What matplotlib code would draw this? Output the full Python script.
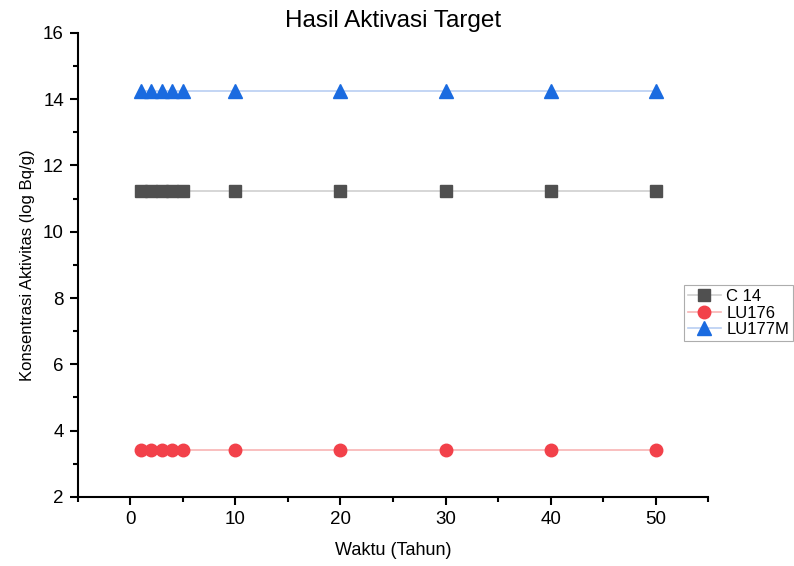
import matplotlib.pyplot as plt
from matplotlib.ticker import MultipleLocator

plt.rcParams['font.family'] = ['Liberation Sans', 'DejaVu Sans']

# Data
waktu = [1, 2, 3, 4, 5, 10, 20, 30, 40, 50]
c14 = [11.23] * len(waktu)
lu176 = [3.41] * len(waktu)
lu177m = [14.25] * len(waktu)

fig = plt.figure(figsize=(7.94, 5.66), dpi=100)
ax = fig.add_axes([0.098, 0.122, 0.794, 0.82])

ax.plot(waktu, c14, color='#d0d0d0', lw=1.2, marker='s', ms=8,
        mfc='#505050', mec='#505050', label='C 14')
ax.plot(waktu, lu176, color='#f8b4b4', lw=1.2, marker='o', ms=9,
        mfc='#f2414a', mec='#f2414a', label='LU176')
ax.plot(waktu, lu177m, color='#b9cef2', lw=1.2, marker='^', ms=10,
        mfc='#1a6be0', mec='#1a6be0', label='LU177M')

ax.set_xlim(-5, 55)
ax.set_ylim(2, 16)
ax.xaxis.set_major_locator(MultipleLocator(10))
ax.xaxis.set_minor_locator(MultipleLocator(5))
ax.yaxis.set_major_locator(MultipleLocator(2))
ax.yaxis.set_minor_locator(MultipleLocator(1))

for s in ['top', 'right']:
    ax.spines[s].set_visible(False)
for s in ['left', 'bottom']:
    ax.spines[s].set_linewidth(1.5)
ax.tick_params(which='major', direction='out', length=6, width=1.5, labelsize=13.5, pad=4)
ax.tick_params(which='minor', direction='out', length=3.5, width=1.5)

ax.set_title('Hasil Aktivasi Target', fontsize=17.5, pad=4)
ax.set_xlabel('Waktu (Tahun)', fontsize=13, labelpad=10)
ax.set_ylabel('Konsentrasi Aktivitas (log Bq/g)', fontsize=12, labelpad=6)

leg = fig.legend(loc='upper left', bbox_to_anchor=(0.861, 0.497), fontsize=12,
                 frameon=True, fancybox=False, edgecolor='#999999',
                 borderpad=0.25, labelspacing=0.1, handlelength=2.0,
                 handletextpad=0.3, borderaxespad=0)
leg.get_frame().set_linewidth(0.8)

fig.savefig('out.png', dpi=100)
